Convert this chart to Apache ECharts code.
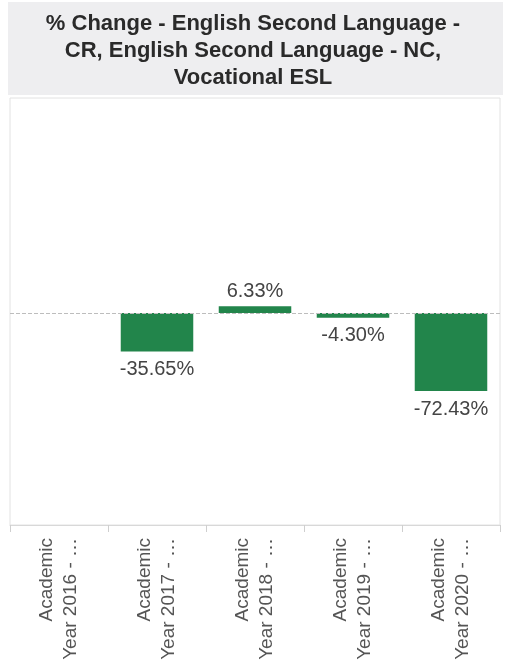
<!DOCTYPE html>
<html>
<head>
<meta charset="utf-8">
<script src="https://cdn.jsdelivr.net/npm/echarts@6/dist/echarts.min.js"></script>
<style>
  html, body { margin: 0; padding: 0; background: #fff; }
  #chart { width: 506px; height: 666px; }
</style>
</head>
<body>
<div id="chart"></div>
<script>
// data
var categories = [
  "Academic\nYear 2016 - …",
  "Academic\nYear 2017 - …",
  "Academic\nYear 2018 - …",
  "Academic\nYear 2019 - …",
  "Academic\nYear 2020 - …"
];
var pctChange = [null, -35.65, 6.33, -4.30, -72.43];
var titleLines = [
  "% Change - English Second Language -",
  "CR, English Second Language - NC,",
  "Vocational ESL"
];

var chart = echarts.init(document.getElementById("chart"));

var option = {
  backgroundColor: "#fff",
  animation: false,
  graphic: [
    {
      type: "rect",
      left: 8,
      top: 2,
      shape: { width: 495, height: 93 },
      style: { fill: "#eeeef0" },
      z: 0
    }
  ],
  title: {
    text: titleLines.join("\n"),
    left: "center",
    top: 5,
    textStyle: {
      fontFamily: "Liberation Sans, Arial, sans-serif",
      fontSize: 22,
      fontWeight: "bold",
      color: "#2a2a2a",
      lineHeight: 27
    }
  },
  grid: {
    left: 10,
    right: 6,
    top: 98,
    bottom: 141,
    show: true,
    borderColor: "#e2e2e2",
    borderWidth: 1,
    containLabel: false
  },
  xAxis: {
    type: "category",
    data: categories,
    axisLine: { show: true, onZero: false, lineStyle: { color: "#d8d8d8" } },
    axisTick: { show: true, alignWithLabel: false, length: 7, lineStyle: { color: "#cfcfcf" } },
    axisLabel: {
      rotate: 90,
      interval: 0,
      margin: 13,
      color: "#555",
      fontFamily: "Liberation Sans, Arial, sans-serif",
      fontSize: 19,
      lineHeight: 24
    }
  },
  yAxis: {
    type: "value",
    min: -197,
    max: 200,
    show: false,
    splitLine: { show: false }
  },
  series: [
    {
      type: "bar",
      data: pctChange.map(function (v) {
        return {
          value: v,
          label: { position: v >= 0 ? "top" : "bottom", distance: v >= 0 ? 5 : 8 }
        };
      }),
      barWidth: "74%",
      itemStyle: { color: "#22854b" },
      label: {
        show: true,
        color: "#444",
        fontFamily: "Liberation Sans, Arial, sans-serif",
        fontSize: 20,
        formatter: function (p) {
          return p.value == null ? "" : p.value.toFixed(2) + "%";
        }
      },
      markLine: {
        silent: true,
        symbol: "none",
        label: { show: false },
        lineStyle: { color: "#bdbdbd", type: "dashed", width: 1 },
        data: [{ yAxis: 0 }]
      }
    }
  ]
};

chart.setOption(option);
</script>
</body>
</html>
